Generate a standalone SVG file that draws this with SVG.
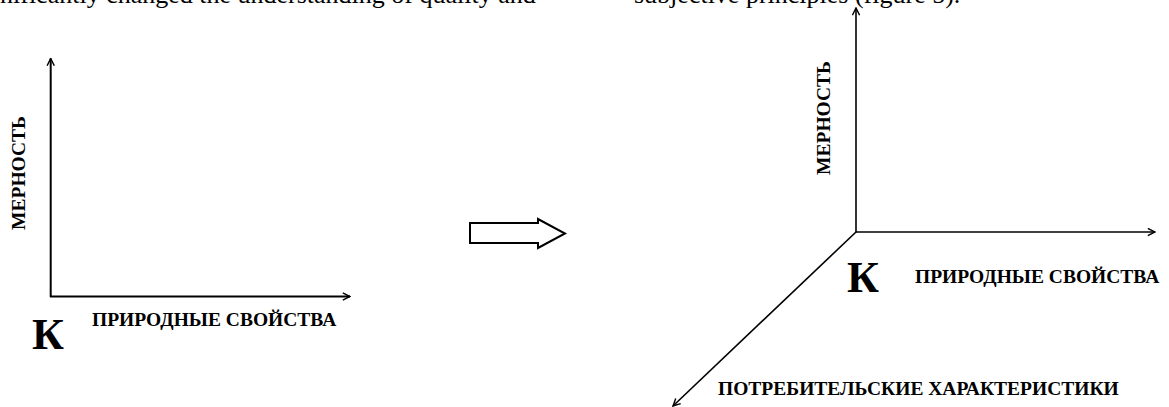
<svg xmlns="http://www.w3.org/2000/svg" width="1169" height="407" viewBox="0 0 1169 407">
  <style>
    .body { font-family: "Liberation Serif", "Times New Roman", serif; font-size: 26px; fill: #000; }
    .lbl { font-family: "Liberation Serif", "Times New Roman", serif; font-size: 19.5px; font-weight: bold; fill: #000; }
    .k { font-family: "Liberation Serif", "Times New Roman", serif; font-size: 44px; font-weight: bold; fill: #000; }
    .axis { stroke: #000; stroke-width: 2; fill: none; }
    .axis3 { stroke: #000; stroke-width: 1.6; fill: none; }
  </style>
  <defs>
    <marker id="arr" viewBox="0 0 10 10" refX="9" refY="5" markerWidth="9" markerHeight="9" markerUnits="userSpaceOnUse" orient="auto">
      <path d="M1,1 L9,5 L1,9" fill="none" stroke="#000" stroke-width="1.6"/>
    </marker>
  </defs>
  <rect width="1169" height="407" fill="#fff"/>

  <g id="page-text">
    <text class="body" x="0" y="2.5">nificantly changed the understanding of quality and</text>
    <text class="body" x="634" y="2.5">subjective principles (figure 5).</text>
  </g>

  <g id="connectors">
    <line class="axis" x1="50.7" y1="297" x2="50.7" y2="58.5" marker-end="url(#arr)"/>
    <line class="axis" x1="50" y1="296.5" x2="350" y2="296.5" marker-end="url(#arr)"/>
    <line class="axis3" x1="856" y1="232.5" x2="856" y2="8" marker-end="url(#arr)"/>
    <line class="axis3" x1="855.5" y1="232" x2="1155" y2="232" marker-end="url(#arr)"/>
    <line class="axis3" x1="856" y1="232" x2="673" y2="406" marker-end="url(#arr)"/>
  </g>

  <g id="left-chart">
    <text class="lbl" transform="translate(25,173) rotate(-90)" text-anchor="middle">МЕРНОСТЬ</text>
    <text class="lbl" x="92" y="325.5">ПРИРОДНЫЕ СВОЙСТВА</text>
    <text class="k" x="32" y="349">К</text>
  </g>

  <g id="transition-arrow">
    <polygon points="470,223 538,223 538,219 565,233.5 538,248 538,243 470,243" fill="#fff" stroke="#000" stroke-width="2"/>
  </g>

  <g id="right-chart">
    <text class="lbl" transform="translate(830,118) rotate(-90)" text-anchor="middle">МЕРНОСТЬ</text>
    <text class="lbl" x="915" y="283">ПРИРОДНЫЕ СВОЙСТВА</text>
    <text class="k" x="847" y="292">К</text>
    <text class="lbl" x="718" y="395">ПОТРЕБИТЕЛЬСКИЕ ХАРАКТЕРИСТИКИ</text>
  </g>
</svg>
